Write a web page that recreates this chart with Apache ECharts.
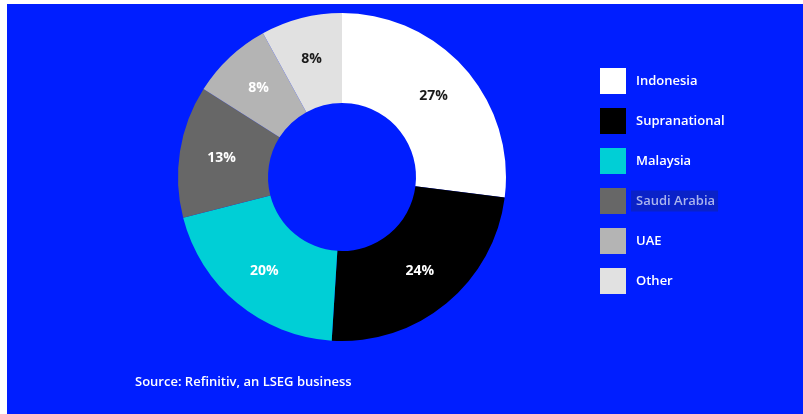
<!DOCTYPE html>
<html>
<head>
<meta charset="utf-8">
<script src="https://cdn.jsdelivr.net/npm/echarts@6/dist/echarts.min.js"></script>
<style>
html,body{margin:0;padding:0;background:#fff;}
#c{width:803px;height:414px;}
</style>
</head>
<body>
<div id="c"></div>
<script>
const categories = ['Indonesia', 'Supranational', 'Malaysia', 'Saudi Arabia', 'UAE', 'Other'];
const values = [27, 24, 20, 13, 8, 8];
const colors = ['#ffffff', '#000000', '#00cfd6', '#676767', '#b4b4b4', '#e1e1e1'];
const labelColors = ['#1a1a1a', '#ffffff', '#ffffff', '#ffffff', '#ffffff', '#1a1a1a'];
const sourceText = 'Source: Refinitiv, an LSEG business';

const chart = echarts.init(document.getElementById('c'));
const font = '"Open Sans", "Noto Sans", sans-serif';
chart.setOption({
  backgroundColor: '#ffffff',
  animation: false,
  graphic: [
    { type: 'rect', shape: { x: 7, y: 4, width: 796, height: 410 }, style: { fill: '#001eff' }, z: -10 },
    { type: 'text', left: 135, top: 376, style: { text: sourceText, fill: '#ffffff', font: '600 13px ' + font } }
  ],
  legend: {
    orient: 'vertical',
    left: 600,
    top: 68,
    padding: 0,
    icon: 'rect',
    itemWidth: 26,
    itemHeight: 26,
    itemGap: 14,
    textStyle: { color: '#ffffff', fontSize: 13, fontWeight: 600, fontFamily: font, padding: [0, 0, 0, 5] },
    data: categories.map((n) => n === 'Saudi Arabia'
      ? { name: n, textStyle: { color: '#aab4ee', backgroundColor: '#0a22c8', padding: [4, 3, 4, 5] } }
      : { name: n })
  },
  series: [{
    type: 'pie',
    center: [342, 177],
    radius: [74, 164],
    startAngle: 90,
    clockwise: true,
    avoidLabelOverlap: false,
    itemStyle: { borderWidth: 0 },
    label: {
      show: true,
      position: 'inside',
      formatter: '{c}%',
      fontSize: 14,
      fontWeight: 'bold',
      fontFamily: font
    },
    labelLine: { show: false },
    data: categories.map((n, i) => ({
      name: n,
      value: values[i],
      itemStyle: { color: colors[i] },
      label: { color: labelColors[i] }
    }))
  }]
});
</script>
</body>
</html>
